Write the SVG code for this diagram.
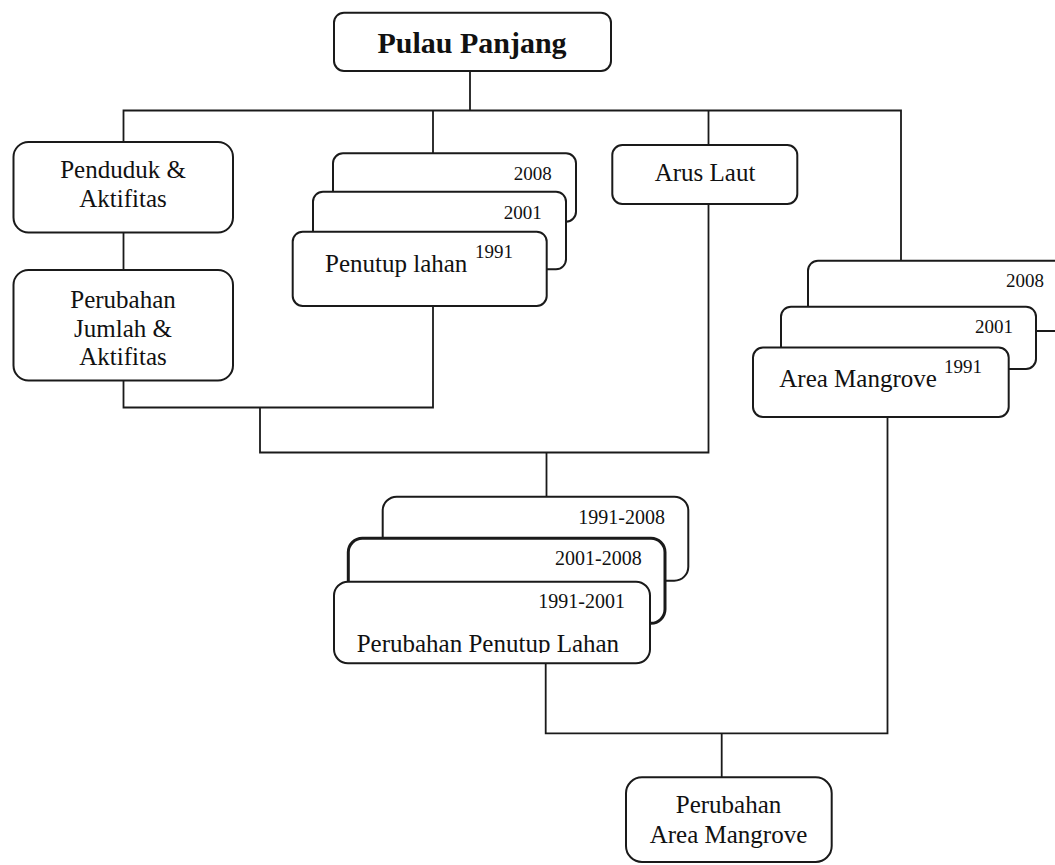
<svg xmlns="http://www.w3.org/2000/svg" width="1055" height="865" viewBox="0 0 1055 865">
<style>
.box{fill:#fff;stroke:#1a1a1a;stroke-width:2}
.bold{stroke-width:3}
.con{fill:none;stroke:#1a1a1a;stroke-width:1.8}
text{font-family:"Liberation Serif","Times New Roman",serif;fill:#111}
.t{font-size:25px}
.c{text-anchor:middle}
.e{text-anchor:end}
.y{font-size:19px}
.r{font-size:20px}
.h{font-size:30px;font-weight:bold}
</style>
<defs>
<clipPath id="clipPPL"><rect x="330" y="590" width="330" height="63"/></clipPath>
</defs>
<rect width="1055" height="865" fill="#fff"/>
<g id="connectors">
<path class="con" d="M470,71 V110.5"/>
<path class="con" d="M123.5,141.7 V110.5 H901 V260.7"/>
<path class="con" d="M433,110.5 V153.3"/>
<path class="con" d="M708.5,110.5 V145"/>
<path class="con" d="M123.5,232.7 V270"/>
<path class="con" d="M123.5,380.7 V407.5 H433 V306"/>
<path class="con" d="M260,407.5 V452.5 H708.5 V204"/>
<path class="con" d="M546.5,452.5 V496.7"/>
<path class="con" d="M545.7,663.3 V733.3 H887.5 V417"/>
<path class="con" d="M721.7,733.3 V777.3"/>
</g>
<g id="pulau-panjang">
<rect class="box" x="334" y="12.7" width="277" height="58.3" rx="10"/>
<text class="h c" x="472" y="53">Pulau Panjang</text>
</g>
<g id="penduduk">
<rect class="box" x="13.5" y="142" width="219.5" height="90.5" rx="15"/>
<text class="t c" x="123" y="178.3">Penduduk &amp;</text>
<text class="t c" x="123" y="206.7">Aktifitas</text>
</g>
<g id="perubahan-jumlah">
<rect class="box" x="13.5" y="270" width="219.5" height="110.5" rx="15"/>
<text class="t c" x="123" y="308">Perubahan</text>
<text class="t c" x="123" y="336.5">Jumlah &amp;</text>
<text class="t c" x="123" y="365">Aktifitas</text>
</g>
<g id="penutup-lahan">
<rect class="box" x="333" y="153.3" width="243" height="68.4" rx="10"/>
<text class="y e" x="551.7" y="180">2008</text>
<rect class="box" x="313" y="191.7" width="253" height="77.6" rx="10"/>
<text class="y e" x="541.7" y="219.3">2001</text>
<rect class="box" x="292.7" y="231.7" width="254" height="74.3" rx="10"/>
<text class="t" x="325" y="271.7">Penutup lahan</text>
<text class="y" x="475" y="258.3">1991</text>
</g>
<g id="arus-laut">
<rect class="box" x="612.3" y="145" width="185" height="59" rx="10"/>
<text class="t c" x="705" y="180.7">Arus Laut</text>
</g>
<g id="area-mangrove">
<rect class="box" x="808" y="260.7" width="280" height="70.3" rx="10"/>
<text class="y e" x="1044" y="286.5">2008</text>
<rect class="box" x="781" y="306.7" width="255" height="62.3" rx="10"/>
<text class="y e" x="1013" y="332.7">2001</text>
<rect class="box" x="753" y="347.5" width="255.7" height="69.5" rx="10"/>
<text class="t" x="779.3" y="386.7">Area Mangrove</text>
<text class="y" x="944" y="373.3">1991</text>
</g>
<g id="perubahan-penutup-lahan">
<rect class="box" x="382.7" y="496.7" width="305.6" height="84" rx="14"/>
<text class="r e" x="665" y="524">1991-2008</text>
<rect class="box bold" x="348.3" y="538.3" width="316.7" height="85" rx="14"/>
<text class="r e" x="641.7" y="565">2001-2008</text>
<rect class="box" x="334" y="581.7" width="316" height="81.6" rx="14"/>
<text class="r e" x="625" y="608.3">1991-2001</text>
<text class="t" x="356.7" y="651.7" clip-path="url(#clipPPL)">Perubahan Penutup Lahan</text>
</g>
<g id="perubahan-area-mangrove">
<rect class="box" x="626" y="777.3" width="205.7" height="84.7" rx="16"/>
<text class="t c" x="728.5" y="813.3">Perubahan</text>
<text class="t c" x="728.5" y="842.7">Area Mangrove</text>
</g>
</svg>
